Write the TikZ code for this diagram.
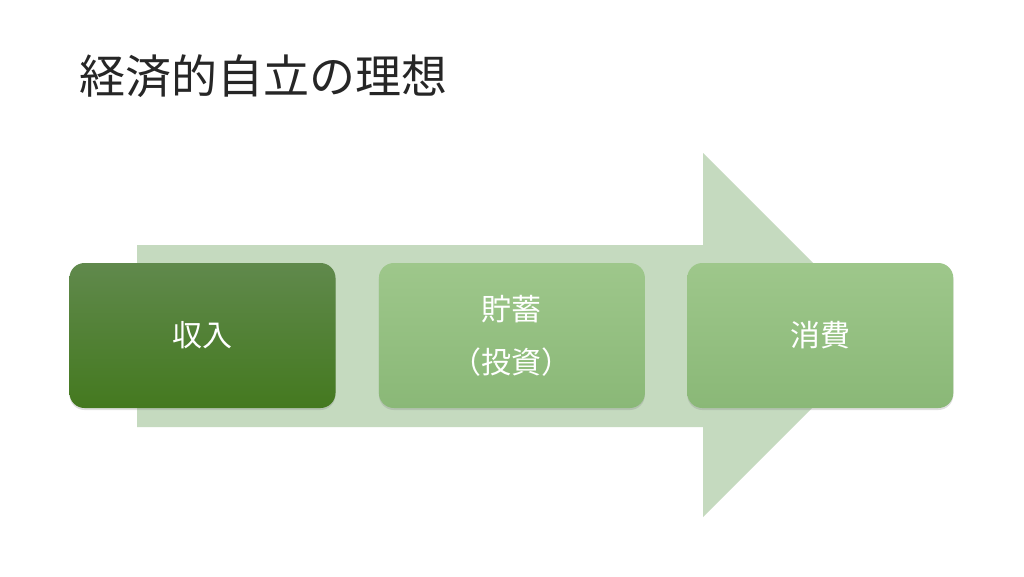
\documentclass[tikz,border=0pt]{standalone}
\usepackage{fontspec}
\setmainfont{Noto Sans CJK JP}
\usetikzlibrary{positioning,shadows}
\definecolor{arrowgreen}{HTML}{C5DABF}
\definecolor{darktop}{HTML}{60894C}
\definecolor{darkbot}{HTML}{44791F}
\definecolor{lighttop}{HTML}{9EC78B}
\definecolor{lightbot}{HTML}{8AB877}
\definecolor{titlegray}{HTML}{262626}

\begin{document}
\begin{tikzpicture}[x=1pt,y=-1pt,
    box/.style={rounded corners=15pt,minimum width=266pt,minimum height=145pt,
      text=white,align=center,font=\fontsize{30}{53}\selectfont,
      drop shadow={opacity=0.25,shadow xshift=0pt,shadow yshift=-2pt}},
    darkbox/.style={box,top color=darktop,bottom color=darkbot},
    lightbox/.style={box,top color=lighttop,bottom color=lightbot}]
  \useasboundingbox[fill=white](0,0)rectangle(1024,576);
  % background arrow
  \fill[arrowgreen](137,245)--(703,245)--(703,153)--(885,335)--(703,517)
    --(703,427)--(137,427)--cycle;
  \node[darkbox](income)at(202.5,335.5){収入};
  \node[lightbox,right=43pt of income](saving){貯蓄\\（投資）};
  \node[lightbox,right=42pt of saving](spending){消費};
  \node[anchor=west,inner sep=0pt,text=titlegray,
    font=\fontsize{46}{46}\selectfont](title)at(79,76){経済的自立の理想};
\end{tikzpicture}
\end{document}
